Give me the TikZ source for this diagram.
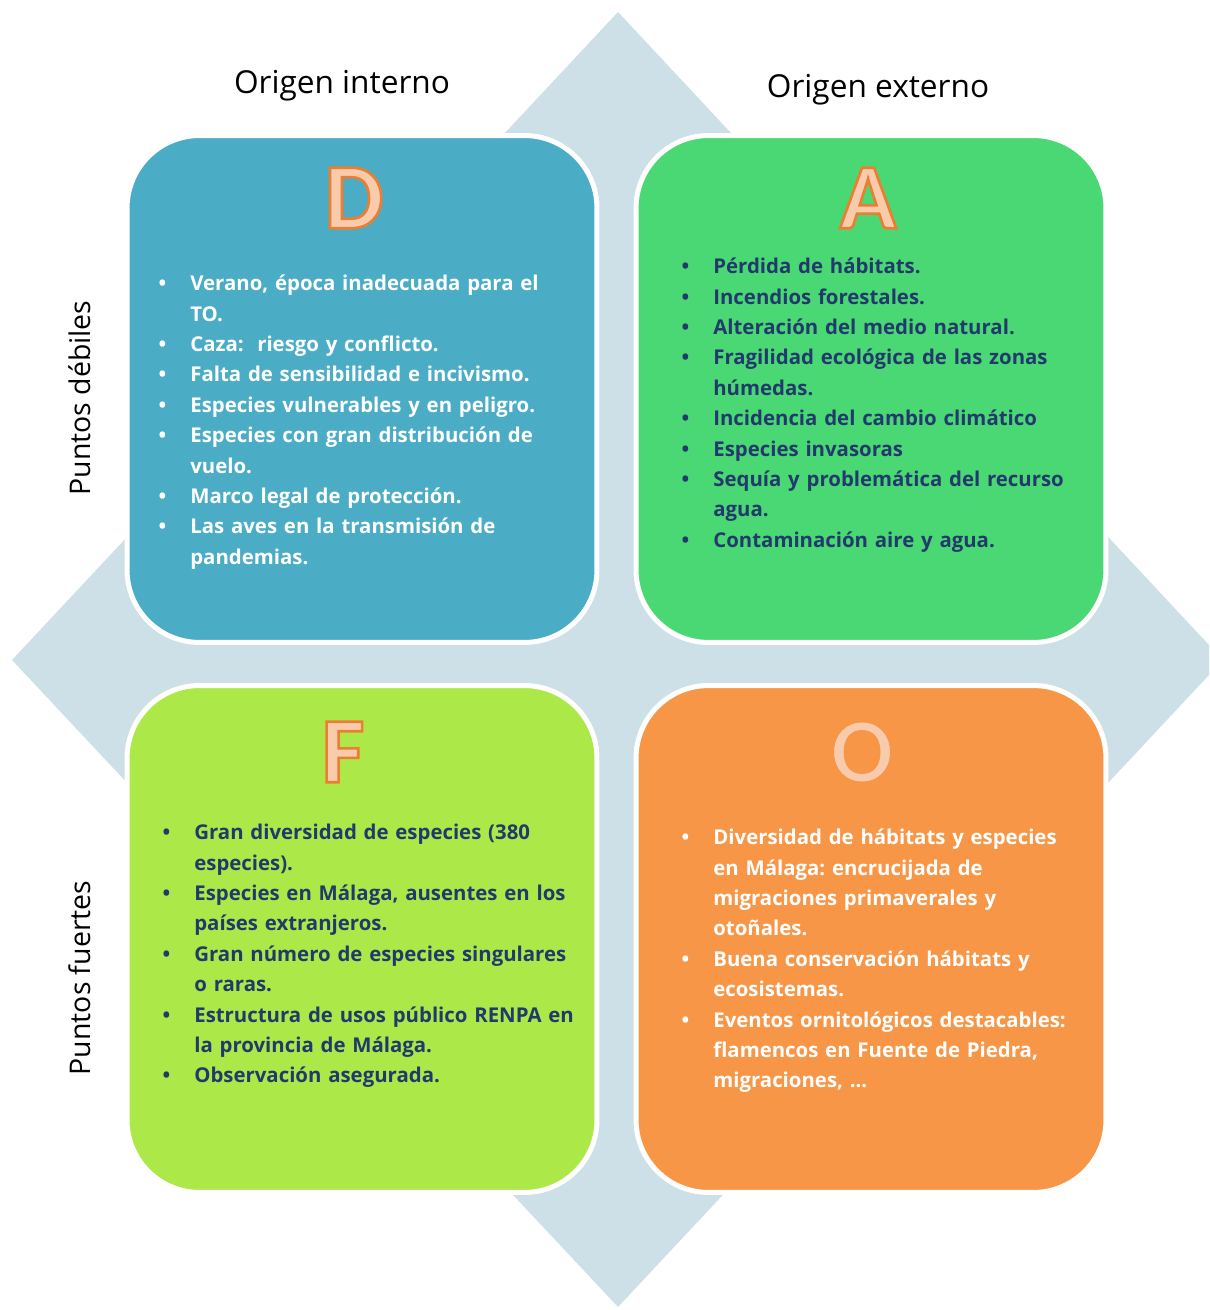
\documentclass[tikz,border=0pt]{standalone}
\usepackage{fontspec}
\setmainfont{Open Sans}
\newfontfamily\letterfont{Carlito}
\usepackage{xcolor}
\usepackage{tikz}
\usetikzlibrary{shadows}
\frenchspacing

\definecolor{diamondbg}{HTML}{CDE0E8}
\definecolor{dblue}{HTML}{4BACC6}
\definecolor{agreen}{HTML}{4AD874}
\definecolor{flime}{HTML}{ADE849}
\definecolor{oorange}{HTML}{F79646}
\definecolor{peach}{HTML}{F8CBAD}
\definecolor{navy}{HTML}{223A6B}

% outlined capital (fill from the node, orange stroke)
\newcommand{\outlined}[2]{\special{pdf:code q 2 Tr 1.5 w #1 RG}#2\special{pdf:code Q}}

\newenvironment{swotlist}{\begin{list}{\textbullet}{%
  \setlength{\leftmargin}{0.6cm}\setlength{\labelwidth}{0.3cm}%
  \setlength{\labelsep}{0.48cm}\setlength{\itemsep}{0pt}%
  \setlength{\parsep}{0pt}\setlength{\topsep}{0pt}%
  \setlength{\partopsep}{0pt}}}{\end{list}}

\begin{document}
\begin{tikzpicture}[x=0.02cm, y=-0.02cm,
    quad/.style={draw=white, line width=0.1cm, rounded corners=1.45cm,
      minimum width=9.4cm, minimum height=10.14cm,
      drop shadow={shadow xshift=0pt, shadow yshift=-1.2pt, opacity=0.3, fill=black!70}},
    letter/.style={font=\letterfont\bfseries\fontsize{53}{60}\selectfont, text=peach},
    itemtext/.style={anchor=north west, inner sep=0pt, text width=8.4cm, align=left,
      font=\bfseries\fontsize{11.6}{17.3}\selectfont},
    heading/.style={font=\fontsize{18}{21}\selectfont},
    sidelabel/.style={font=\fontsize{16.2}{19}\selectfont, rotate=90}]
    \useasboundingbox (0,0) rectangle (1209,1310);
    \clip (0,0) rectangle (1209,1310);

    % Background
    \fill[diamondbg] (618,12) -- (1223,660) -- (618,1307) -- (12,660) -- cycle;

    % Headings
    \node[heading] (intern) at (342,86) {Origen interno};
    \node[heading] (extern) at (878,90) {Origen externo};
    \node[sidelabel] (debil) at (80,398) {Puntos débiles};
    \node[sidelabel] (fuerte) at (80,978) {Puntos fuertes};

    % D
    \node[quad, fill=dblue] (Dbox) at (362,389) {};
    \node[letter] (Dlet) at (354,198) {\outlined{0.929 0.490 0.192}{D}};
    \node[itemtext, text=white] (Dtxt) at (160,260) {\begin{swotlist}
      \item Verano, época inadecuada para el\newline TO.
      \item Caza: \ riesgo y conflicto.
      \item Falta de sensibilidad e incivismo.
      \item Especies vulnerables y en peligro.
      \item Especies con gran distribución de\newline vuelo.
      \item Marco legal de protección.
      \item Las aves en la transmisión de\newline pandemias.
    \end{swotlist}};

    % A
    \node[quad, fill=agreen] (Abox) at (871,389) {};
    \node[letter] (Alet) at (868,198) {\outlined{0.929 0.490 0.192}{A}};
    \node[itemtext, text=navy] (Atxt) at (683,243) {\begin{swotlist}
      \item Pérdida de hábitats.
      \item Incendios forestales.
      \item Alteración del medio natural.
      \item Fragilidad ecológica de las zonas\newline húmedas.
      \item Incidencia del cambio climático
      \item Especies invasoras
      \item Sequía y problemática del recurso\newline agua.
      \item Contaminación aire y agua.
    \end{swotlist}};

    % F
    \node[quad, fill=flime] (Fbox) at (362,939) {};
    \node[letter] (Flet) at (343,752) {\outlined{0.929 0.490 0.192}{F}};
    \node[itemtext, text=navy] (Ftxt) at (164,809) {\begin{swotlist}
      \item Gran diversidad de especies (380\newline especies).
      \item Especies en Málaga, ausentes en los\newline países extranjeros.
      \item Gran número de especies singulares\newline o raras.
      \item Estructura de usos público RENPA en\newline la provincia de Málaga.
      \item Observación asegurada.
    \end{swotlist}};

    % O
    \node[quad, fill=oorange] (Obox) at (871,939) {};
    \node[letter] (Olet) at (862,752) {\outlined{0.969 0.588 0.275}{O}};
    \node[itemtext, text=white] (Otxt) at (683,814) {\begin{swotlist}
      \item Diversidad de hábitats y especies\newline en Málaga: encrucijada de\newline migraciones primaverales y\newline otoñales.
      \item Buena conservación hábitats y\newline ecosistemas.
      \item Eventos ornitológicos destacables:\newline flamencos en Fuente de Piedra,\newline migraciones, ...
    \end{swotlist}};
\end{tikzpicture}
\end{document}
